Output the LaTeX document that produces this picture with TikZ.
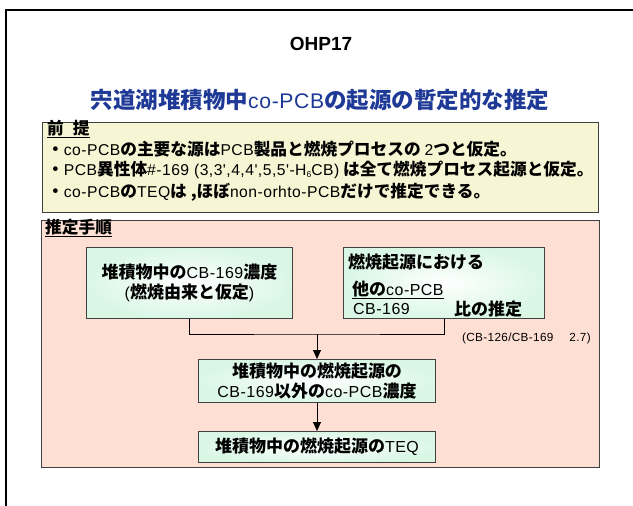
\documentclass[tikz,border=0pt]{standalone}
\usepackage{fontspec}
\setmainfont{Liberation Sans}
\newfontfamily\jp{Noto Sans CJK JP}
\newfontfamily\lat{Liberation Sans}[Scale=0.94, LetterSpace=3.0]
\usetikzlibrary{arrows.meta}
\definecolor{ttlblue}{RGB}{31,58,150}
\definecolor{yelfill}{RGB}{246,246,212}
\definecolor{pinkfill}{RGB}{253,223,211}
\definecolor{mintout}{RGB}{218,247,230}
\definecolor{edgegray}{RGB}{64,64,64}
\newcommand\E[1]{{\lat\mdseries #1}}
\tikzset{
  jpfont/.style={font=\jp\bfseries\fontsize{#1}{20}\selectfont},
  panel/.style={draw=edgegray, line width=1.4pt, anchor=north west, inner sep=0pt},
  stepbox/.style={draw=edgegray, line width=1pt, anchor=north west, inner sep=0pt,
    shading=radial, inner color=white, outer color=mintout, align=center,
    jpfont=17},
  txt/.style={inner sep=0pt, anchor=west, jpfont=16.7},
  arr/.style={line width=0.9pt, -{Triangle[length=9pt,width=8pt]}},
  conn/.style={line width=0.9pt}
}
\begin{document}
\begin{tikzpicture}[x=1pt,y=-1pt]
\useasboundingbox (0,0) rectangle (633,506);
\fill[white] (0,0) rectangle (633,506);
% outer frame (extends past the page)
\draw[line width=2.2pt] (6,506) -- (6,10) -- (640,10);

\node[font=\bfseries\fontsize{19}{22}\selectfont] (ttl) at (321,44) {OHP17};
\node[jpfont=22.5, text=ttlblue] (sub) at (320,100) {宍道湖堆積物中\E{co-PCB}の起源の暫定的な推定};

% premise panel
\node[panel, fill=yelfill, minimum width=556pt, minimum height=90pt] (pre) at (42,122) {};
\node[txt] (preh) at (47,129) {\underline{前\hspace{9pt}提}};
\node[txt] (p1) at (47,149) {・\E{co-PCB}の主要な源は\E{PCB}製品と燃焼プロセスの \E{2}つと仮定。};
\node[txt] (p2) at (47,170) {・\E{PCB}異性体\E{\#-169 (3,3',4,4',5,5'-H\raisebox{-2pt}{\fontsize{9}{9}\selectfont 6}CB)} は全て燃焼プロセス起源と仮定。};
\node[txt] (p3) at (47,192) {・\E{co-PCB}の\E{TEQ}は ,ほぼ\E{non-orhto-PCB}だけで推定できる。};

% procedure panel
\node[panel, fill=pinkfill, minimum width=558pt, minimum height=247pt] (proc) at (41,220) {};
\node[txt] (proch) at (45,228) {\underline{推定手順}};

\node[stepbox, minimum width=206pt, minimum height=71pt] (b1) at (86,247)
  {堆積物中の\E{CB-169}濃度\\\E{(}燃焼由来と仮定\E{)}};
\node[stepbox, minimum width=201pt, minimum height=71pt] (b2) at (343,247) {};
\node[txt, jpfont=17] (b2a) at (348,262) {燃焼起源における};
\node[txt, jpfont=17] (b2b) at (352,290) {\underline{他の\E{co-PCB}}};
\node[txt, jpfont=17] (b2c) at (353,309) {\E{CB-169}};
\node[txt, jpfont=17] (b2d) at (454,309) {比の推定};
\node[inner sep=0pt, anchor=east, font=\lat\fontsize{12.5}{15}\selectfont] (ratio) at (591,338) {(CB-126/CB-169\hspace{16pt}2.7)};

\node[stepbox, minimum width=237pt, minimum height=43pt] (b3) at (198,359)
  {堆積物中の燃焼起源の\\\E{CB-169}以外の\E{co-PCB}濃度};
\node[stepbox, minimum width=237pt, minimum height=31pt] (b4) at (198,431)
  {堆積物中の燃焼起源の\E{TEQ}};

\coordinate (j) at (b3.north |- 0,334);
\draw[conn] (b1.south) |- (j) -| (b2.south);
\draw[arr] (j) -- (b3.north);
\draw[arr] (b3.south) -- (b4.north);
\end{tikzpicture}
\end{document}
